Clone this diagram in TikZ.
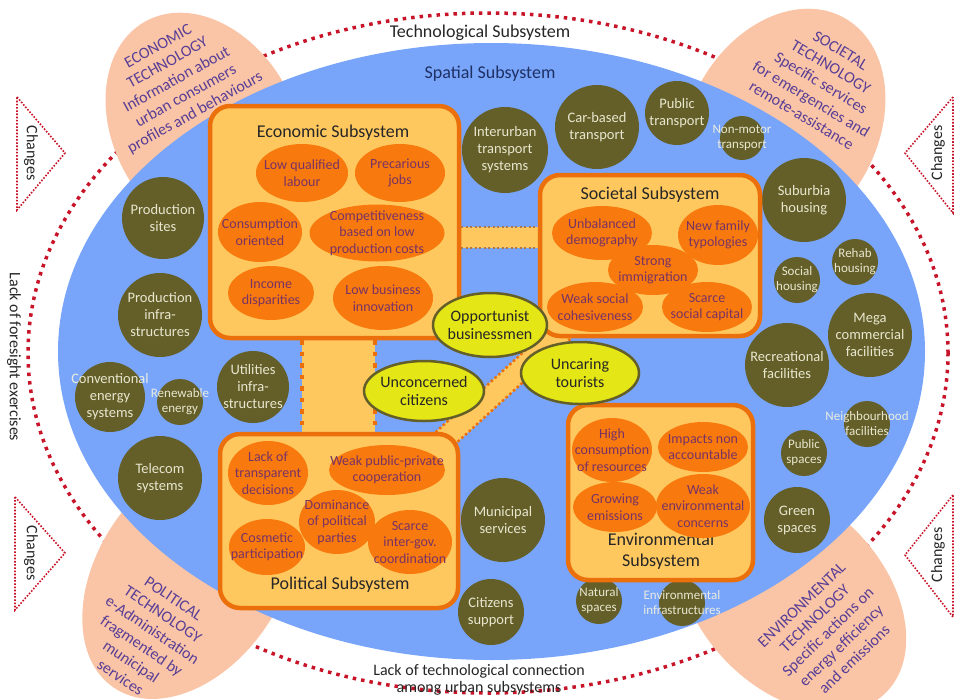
\documentclass[tikz,border=0pt]{standalone}
\usepackage{fontspec}
\setmainfont{Carlito}
\usetikzlibrary{calc}
\usetikzlibrary{shapes.geometric}

\definecolor{bleu}{RGB}{120,165,250}
\definecolor{bleunuit}{RGB}{30,48,100}
\definecolor{peche}{RGB}{250,196,166}
\definecolor{textpeche}{RGB}{88,62,150}
\definecolor{kaki}{RGB}{100,95,40}
\definecolor{blanccasse}{RGB}{244,242,222}
\definecolor{orangefonce}{RGB}{235,112,12}
\definecolor{orangevif}{RGB}{248,122,14}
\definecolor{textorange}{RGB}{120,50,100}
\definecolor{jaunebox}{RGB}{255,200,95}
\definecolor{jaune}{RGB}{228,230,22}
\definecolor{rouge}{RGB}{200,20,40}
\definecolor{pointsgris}{RGB}{170,120,80}

\pgfdeclarelayer{fond}
\pgfdeclarelayer{liens}
\pgfsetlayers{fond,liens,main}

\tikzset{
	stexte/.style={text=blanccasse, text opacity=.92, align=center, font=\fontsize{14.5}{17}\selectfont},
	spot/.style={circle, fill=kaki, inner sep=0pt, label={[stexte]center:#1}},
	petitspot/.style={circle, fill=kaki, inner sep=0pt, label={[stexte, font=\fontsize{13}{15}\selectfont]center:#1}},
	subsys/.style={draw=orangefonce, line width=4.5pt, fill=jaunebox, rounded corners=20pt, inner sep=0pt},
	soustitre/.style={text=black!85, align=center, font=\fontsize{18}{21}\selectfont},
	ftexte/.style={text=textorange, align=center, font=\fontsize{14}{16.5}\selectfont},
	facteur/.style={ellipse, fill=orangevif, inner sep=0pt, label={[ftexte]center:#1}},
	atexte/.style={text=black!85, align=center, font=\fontsize{16}{18}\selectfont},
	acteur/.style={ellipse, draw=kaki, line width=2.5pt, fill=jaune, inner sep=0pt, label={[atexte]center:#1}},
	techtexte/.style={text=textpeche, align=center, font=\fontsize{16}{19}\selectfont},
	grand/.style={text=black!85, align=center, font=\fontsize{18}{21}\selectfont},
	moyen/.style={text=black!85, align=center, font=\fontsize{16}{16.5}\selectfont},
	change/.style={draw=rouge, line width=1.6pt, dash pattern=on 1.6pt off 1.6pt},
	bande/.style={fill=jaunebox},
	bordgris/.style={draw=pointsgris, line width=2pt, dash pattern=on 2pt off 2.5pt},
	bordorange/.style={draw=orangefonce, line width=4.5pt, dash pattern=on 4.5pt off 7pt},
	bordfin/.style={draw=orangefonce, line width=2.5pt, dash pattern=on 2.5pt off 2.5pt}
}

\begin{document}
\begin{tikzpicture}[x=1pt, y=1pt]
	\useasboundingbox (0,0) rectangle (960,-699);
%	Fond : pointillé, technologies et sous-système spatial
	\begin{pgfonlayer}{fond}
		\draw[rouge, line width=3.5pt, dash pattern=on 3.5pt off 5pt] (488,-353) ellipse (460 and 340);
		\fill[peche, rotate around={29:(205,-129)}] (205,-129) ellipse (91 and 123);
		\fill[peche, rotate around={-29:(783,-128)}] (783,-128) ellipse (94 and 126);
		\fill[peche, rotate around={-34:(190,-575)}] (190,-575) ellipse (92 and 136);
		\fill[peche, rotate around={44:(792,-597)}] (792,-597) ellipse (92 and 134);
		\fill[bleu] (491.5,-351.5) ellipse (433.5 and 308.5);
	\end{pgfonlayer}

%	Triangles des changements :
	\draw[change] (17,-97) -- (65,-153) -- (17,-210) -- cycle;
	\draw[change] (15,-497) -- (65,-553) -- (15,-610) -- cycle;
	\draw[change] (953,-97) -- (905,-153) -- (953,-213) -- cycle;
	\draw[change] (953,-495) -- (905,-555) -- (953,-617) -- cycle;
	\node[moyen, rotate=-90] (chg1) at (31,-153) {Changes};
	\node[moyen, rotate=-90] (chg2) at (31,-553) {Changes};
	\node[moyen, rotate=90] (chg3) at (938,-153) {Changes};
	\node[moyen, rotate=90] (chg4) at (938,-555) {Changes};

%	Textes généraux :
	\node[grand] (techno) at (480,-33) {Technological Subsystem};
	\node[grand, text=bleunuit] (spatial) at (490,-74) {Spatial Subsystem};
	\node[moyen, rotate=-90] (prosp) at (14,-357) {Lack of foresight exercises};
	\node[moyen] (connex) at (479,-680) {Lack of technological connection\\among urban subsystems};

%	Technologies :
	\node[techtexte, rotate=29] (tecEco) at (177,-80) {ECONOMIC\\TECHNOLOGY\\Information about\\urban consumers\\profiles and behaviours};
	\node[techtexte, rotate=-31] (tecSoc) at (821,-83) {SOCIETAL\\TECHNOLOGY\\Specific services\\for emergencies and\\remote-assistance};
	\node[techtexte, rotate=-34] (tecPol) at (147,-638) {POLITICAL\\TECHNOLOGY\\e-Administration\\fragmented by\\municipal\\services};
	\node[techtexte, rotate=44] (tecEnv) at (828,-632) {ENVIRONMENTAL\\TECHNOLOGY\\Specific actions on\\energy efficiency\\and emissions};

%	Équipements spatiaux :
	\node[spot={Production\\sites}, minimum size=82pt] (prodS) at (163,-218) {};
	\node[spot={Production\\infra-\\structures}, minimum size=84pt] (prodI) at (160,-315) {};
	\node[spot={Conventional\\energy\\systems}, minimum size=70pt] (conv) at (110,-397) {};
	\node[petitspot={Renewable\\energy}, minimum size=46pt] (renew) at (180,-402) {};
	\node[spot={Utilities\\infra-\\structures}, minimum size=72pt] (util) at (253,-387) {};
	\node[spot={Telecom\\systems}, minimum size=84pt] (tele) at (160,-478) {};
	\node[spot={Interurban\\transport\\systems}, minimum size=86pt] (inter) at (505,-150) {};
	\node[spot={Car-based\\transport}, minimum size=84pt] (car) at (597,-127) {};
	\node[spot={Public\\transport}, minimum size=64pt] (pubT) at (677,-113) {};
	\node[petitspot={Non-motor\\transport}, minimum size=44pt] (nonM) at (742,-138) {};
	\node[spot={Suburbia\\housing}, minimum size=84pt] (subu) at (804,-200) {};
	\node[petitspot={Social\\housing}, minimum size=46pt] (socH) at (797,-280) {};
	\node[petitspot={Rehab\\housing}, minimum size=46pt] (rehab) at (855,-262) {};
	\node[spot={Mega\\commercial\\facilities}, minimum size=84pt] (mega) at (870,-335) {};
	\node[spot={Recreational\\facilities}, minimum size=84pt] (recre) at (787,-365) {};
	\node[petitspot={Neighbourhood\\facilities}, minimum size=46pt] (neigh) at (867,-424) {};
	\node[petitspot={Public\\spaces}, minimum size=46pt] (pubS) at (804,-453) {};
	\node[spot={Green\\spaces}, minimum size=66pt] (green) at (797,-520) {};
	\node[spot={Municipal\\services}, minimum size=84pt] (muni) at (503,-520) {};
	\node[spot={Citizens\\support}, minimum size=66pt] (citi) at (491,-612) {};
	\node[petitspot={Natural\\spaces}, minimum size=46pt] (natu) at (599,-601) {};
	\node[petitspot={Environmental\\infrastructures}, minimum size=46pt] (envI) at (682,-603) {};

%	Sous-systèmes :
	\node[subsys, minimum width=249pt, minimum height=232pt] (eco) at (334.5,-222) {};
	\node[soustitre] (ecoT) at (333,-133) {Economic Subsystem};
	\node[subsys, minimum width=220pt, minimum height=161pt] (soc) at (650,-255.5) {};
	\node[soustitre] (socT) at (650,-195) {Societal Subsystem};
	\node[subsys, minimum width=238pt, minimum height=174pt] (pol) at (339,-521) {};
	\node[soustitre] (polT) at (340,-585) {Political Subsystem};
	\node[subsys, minimum width=185pt, minimum height=175pt] (env) at (660.5,-492.5) {};
	\node[soustitre] (envT) at (661,-551) {Environmental\\Subsystem};

%	Facteurs économiques :
	\node[facteur={Low qualified\\labour}, minimum width=92pt, minimum height=58pt] (lql) at (302,-173) {};
	\node[facteur={Precarious\\jobs}, minimum width=90pt, minimum height=58pt] (pj) at (400,-173) {};
	\node[facteur={Consumption\\oriented}, minimum width=84pt, minimum height=60pt] (co) at (260,-232) {};
	\node[facteur={Competitiveness\\based on low\\production costs}, minimum width=135pt, minimum height=57pt] (comp) at (377,-233) {};
	\node[facteur={Income\\disparities}, minimum width=86pt, minimum height=54pt] (inc) at (271,-293) {};
	\node[facteur={Low business\\innovation}, minimum width=100pt, minimum height=64pt] (lbi) at (383,-298) {};
%	Facteurs sociétaux :
	\node[facteur={Unbalanced\\demography}, minimum width=100pt, minimum height=54pt] (ud) at (602,-233) {};
	\node[facteur={New family\\typologies}, minimum width=80pt, minimum height=60pt] (nft) at (718,-235) {};
	\node[facteur={Strong\\immigration}, minimum width=90pt, minimum height=50pt] (si) at (653,-270) {};
	\node[facteur={Weak social\\cohesiveness}, minimum width=96pt, minimum height=50pt] (wsc) at (595,-307) {};
	\node[facteur={Scarce\\social capital}, minimum width=90pt, minimum height=50pt] (ssc) at (707,-307) {};
%	Facteurs politiques :
	\node[facteur={Lack of\\transparent\\decisions}, minimum width=80pt, minimum height=64pt] (ltd) at (268,-473) {};
	\node[facteur={Weak public-private\\cooperation}, minimum width=116pt, minimum height=50pt] (wpp) at (387,-470) {};
	\node[facteur={Dominance\\of political\\parties}, minimum width=76pt, minimum height=64pt] (dpp) at (337,-522) {};
	\node[facteur={Cosmetic\\participation}, minimum width=76pt, minimum height=56pt] (cp) at (267,-547) {};
	\node[facteur={Scarce\\inter-gov.\\coordination}, minimum width=84pt, minimum height=64pt] (sigc) at (410,-542) {};
%	Facteurs environnementaux :
	\node[facteur={High\\consumption\\of resources}, minimum width=80pt, minimum height=64pt] (hcr) at (612,-450) {};
	\node[facteur={Impacts non\\accountable}, minimum width=90pt, minimum height=50pt] (ina) at (703,-447) {};
	\node[facteur={Growing\\emissions}, minimum width=84pt, minimum height=50pt] (ge) at (615,-507) {};
	\node[facteur={Weak\\environmental\\concerns}, minimum width=94pt, minimum height=64pt] (wec) at (703,-506) {};

%	Acteurs :
	\node[acteur={Opportunist\\businessmen}, minimum width=114pt, minimum height=64pt] (opp) at (490,-325) {};
	\node[acteur={Unconcerned\\citizens}, minimum width=120pt, minimum height=60pt] (unc) at (424,-391) {};
	\node[acteur={Uncaring\\tourists}, minimum width=118pt, minimum height=62pt] (tour) at (580,-373) {};

%	Liens entre sous-systèmes :
	\coordinate (h1) at (0,-227);
	\coordinate (h2) at (0,-248);
	\coordinate (v1) at (302,0);
	\coordinate (v2) at (375,0);
	\coordinate (d1) at ($(pol.north east)+(-21,-12)$);
	\coordinate (d2) at ($(soc.south west)+(28,10)$);
	\begin{pgfonlayer}{liens}
		\fill[bande] (eco.east |- h1) rectangle (soc.west |- h2);
		\draw[bordgris] (eco.east |- h1) -- (soc.west |- h1);
		\draw[bordgris] (eco.east |- h2) -- (soc.west |- h2);
		\fill[bande] (eco.south -| v1) rectangle (pol.north -| v2);
		\draw[bordorange] (eco.south -| v1) -- (pol.north -| v1);
		\draw[bordorange] (eco.south -| v2) -- (pol.north -| v2);
		\draw[jaunebox, line width=22pt] (d1) -- (d2);
		\draw[bordfin] ($(d1)!11pt!90:(d2)$) -- ($(d2)!11pt!-90:(d1)$);
		\draw[bordfin] ($(d1)!11pt!-90:(d2)$) -- ($(d2)!11pt!90:(d1)$);
	\end{pgfonlayer}
\end{tikzpicture}
\end{document}
